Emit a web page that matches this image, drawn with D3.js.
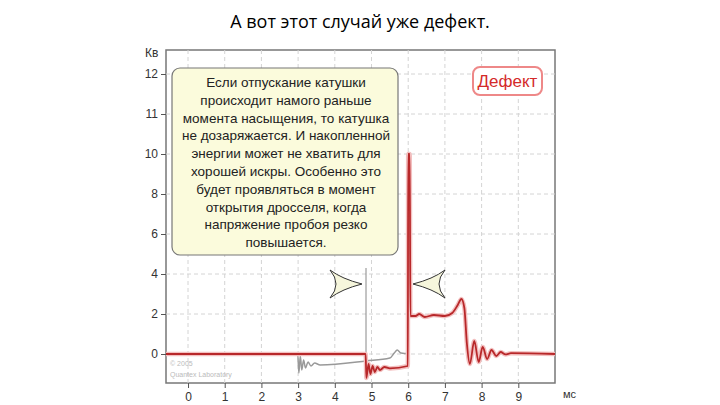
<!DOCTYPE html><html><head><meta charset="utf-8">
<script src="https://cdn.jsdelivr.net/npm/d3@7"></script>
<style>body{margin:0;background:#fff}</style></head><body><svg id="c" width="720" height="405"></svg>
<script>
const xTicks=[0,1,2,3,4,5,6,7,8,9];
const yTicks=[0,2,4,6,8,10,11,12];
const graySeries=[[-0.6,0],[2.99,0],[3.02,-0.95],[3.06,-0.1],[3.1,-0.8],[3.15,-0.3],[3.2,-0.7],[3.27,-0.4],[3.35,-0.6],[3.45,-0.45],[3.6,-0.55],[4.85,-0.35],[5.5,-0.2],[5.62,0.05],[5.7,0.2],[5.8,0.05],[5.9,0.03],[6.0,0.03]];
const redSeries=[[-0.6,0],[4.84,0],[4.86,-1.2],[4.92,-0.5],[4.97,-1.0],[5.03,-0.6],[5.09,-0.9],[5.16,-0.65],[5.23,-0.8],[5.35,-0.65],[5.5,-0.72],[5.99,-0.6],[6.0,10],[6.04,10],[6.06,1.9],[6.2,1.9],[6.3,2.0],[6.45,1.85],[6.7,1.95],[7.0,1.9],[7.2,2.05],[7.35,2.45],[7.45,2.75],[7.53,2.3],[7.6,0.5],[7.68,-0.5],[7.8,0.65],[7.92,-0.4],[8.03,0.35],[8.15,-0.25],[8.27,0.2],[8.4,-0.1],[8.52,0.1],[8.65,-0.02],[8.8,0.04],[10,0]];
const noteLines=["Если отпускание катушки","происходит намого раньше","момента насыщения, то катушка","не дозаряжается. И накопленной","энергии может не хватить для","хорошей искры. Особенно это","будет проявляться в момент","открытия дросселя, когда","напряжение пробоя резко","повышается."];
const svg=d3.select("#c");
const x=d3.scaleLinear().domain([-0.6,10]).range([166,555]);
const y=d3.scaleLinear().domain([-1.45,10,12]).range([383,154,74]);
svg.append("text").attr("x",360).attr("y",28).attr("text-anchor","middle").attr("font-family","Open Sans").attr("font-size",18).text("А вот этот случай уже дефект.");
const g=svg.append("g");
g.append("rect").attr("x",166).attr("y",50).attr("width",389).attr("height",333).attr("fill","#fff").attr("stroke","#777").attr("stroke-width",1.5);
g.selectAll(".gx").data(xTicks).join("line").attr("x1",d=>x(d)).attr("x2",d=>x(d)).attr("y1",50).attr("y2",383).attr("stroke","#d4d4d4").attr("stroke-dasharray","4,3");
g.selectAll(".gy").data(yTicks).join("line").attr("y1",d=>y(d)).attr("y2",d=>y(d)).attr("x1",166).attr("x2",555).attr("stroke","#d4d4d4").attr("stroke-dasharray","4,3");
const ax=g.append("g").attr("transform","translate(0,383)").call(d3.axisBottom(x).tickValues(xTicks).tickSize(5).tickPadding(4));
ax.select(".domain").remove();
ax.selectAll("text").attr("font-family","Liberation Sans").attr("font-size",12).attr("fill","#333");
ax.selectAll("line").attr("stroke","#555");
const ay=g.append("g").attr("transform","translate(166,0)").call(d3.axisLeft(y).tickValues(yTicks).tickSize(5).tickPadding(3));
ay.select(".domain").remove();
ay.selectAll("text").attr("font-family","Liberation Sans").attr("font-size",12).attr("fill","#333");
ay.selectAll("line").attr("stroke","#555");
svg.append("text").attr("x",145).attr("y",57).attr("font-family","Liberation Sans").attr("font-size",12).attr("fill","#333").text("Кв");
svg.append("text").attr("x",563).attr("y",398).attr("font-family","Liberation Sans").attr("font-size",11).attr("fill","#333").text("мс");
svg.append("text").attr("x",170).attr("y",366).attr("font-family","Liberation Sans").attr("font-size",7).attr("fill","#bbb").text("© 2005");
svg.append("text").attr("x",170).attr("y",377).attr("font-family","Liberation Sans").attr("font-size",7).attr("fill","#bbb").text("Quantex Laboratory");
const line=d3.line().x(d=>x(d[0])).y(d=>y(d[1])).curve(d3.curveMonotoneX);
g.append("path").attr("d",line(graySeries)).attr("fill","none").attr("stroke","#999").attr("stroke-width",1.5);
g.append("line").attr("x1",x(4.85)).attr("x2",x(4.85)).attr("y1",y(-1)).attr("y2",y(4.3)).attr("stroke","#888").attr("stroke-width",1);
g.append("path").attr("d",line(redSeries)).attr("fill","none").attr("stroke","#f3c0c0").attr("stroke-width",4.5);
g.append("path").attr("d",line(redSeries)).attr("fill","none").attr("stroke","#b8282a").attr("stroke-width",1.8);
svg.append("rect").attr("x",172).attr("y",68).attr("width",226).attr("height",187).attr("rx",8).attr("fill","#fbfbdc").attr("stroke","#777").attr("stroke-width",1.2);
svg.append("g").selectAll("text").data(noteLines).join("text").attr("x",286).attr("y",(d,i)=>87+i*17.8).attr("text-anchor","middle").attr("font-family","Liberation Sans").attr("font-size",13.5).attr("fill","#222").text(d=>d);
svg.append("rect").attr("x",473).attr("y",67).attr("width",69).attr("height",28).attr("rx",7).attr("fill","#fff").attr("stroke","#e88").attr("stroke-width",2);
svg.append("text").attr("x",507.5).attr("y",87).attr("text-anchor","middle").attr("font-family","Liberation Sans").attr("font-size",17).attr("fill","#d42a2a").text("Дефект");
function arrow(tipx,dir){const bx=tipx-dir*32;return `M${tipx},284 Q${bx+dir*12},279 ${bx},270 Q${bx+dir*12},284 ${bx},298 Q${bx+dir*12},289 ${tipx},284Z`;}
svg.append("path").attr("d",arrow(362,1)).attr("fill","#f6f6dc").attr("stroke","#333").attr("stroke-width",1);
svg.append("path").attr("d",arrow(413,-1)).attr("fill","#f6f6dc").attr("stroke","#333").attr("stroke-width",1);
</script></body></html>
